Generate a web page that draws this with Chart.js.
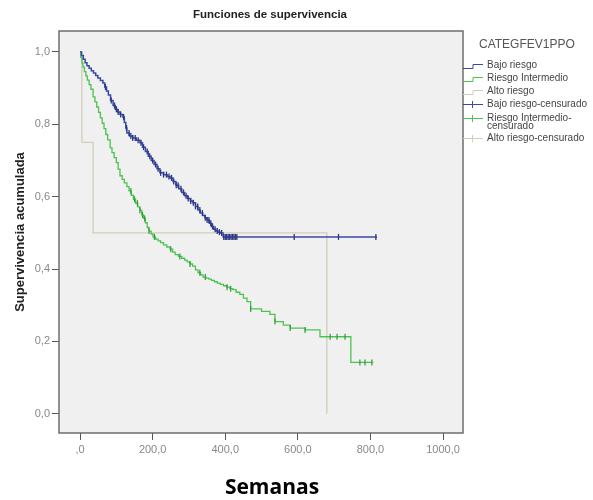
<!DOCTYPE html>
<html>
<head>
<meta charset="utf-8">
<script src="https://cdn.jsdelivr.net/npm/chart.js@4.4.1/dist/chart.umd.min.js"></script>
<style>
  body { margin: 0; background: #fff; }
  #wrap { position: relative; width: 593px; height: 500px; }
  #myChart { position: absolute; left: 0; top: 0; }
  .txt { position: absolute; white-space: nowrap; font-family: "Liberation Sans", Arial, sans-serif; }
  #titulo { left: 0; width: 540px; top: 8px; text-align: center; font-size: 11.5px; font-weight: bold; color: #222; }
  #semanas { left: 172px; width: 200px; top: 472px; text-align: center; font-family: "Open Sans", sans-serif; font-size: 21px; font-weight: bold; color: #000; }
  #leyTitulo { left: 479px; top: 37px; font-size: 12px; color: #555; }
  .fila { position: absolute; left: 463px; height: 12px; }
  .fila svg { position: absolute; left: 0; top: 0; }
  .fila span { position: absolute; left: 24px; top: 2px; font-size: 10px; line-height: 8px; color: #444; font-family: "Liberation Sans", Arial, sans-serif; white-space: nowrap; }
</style>
</head>
<body>
<div id="wrap">
  <canvas id="myChart" width="593" height="500"></canvas>
  <div class="txt" id="titulo">Funciones de supervivencia</div>
  <div class="txt" id="semanas">Semanas</div>
  <div class="txt" id="leyTitulo">CATEGFEV1PPO</div>
  <div id="leyenda"></div>
</div>
<script>
//Tiempos (semanas) y supervivencia acumulada de cada grupo
var tiempoBajo = [0, 4, 9, 14, 19, 25, 31, 37, 43, 49, 56, 63, 68, 73, 78, 84, 91, 97, 103, 110, 118, 122, 126, 129, 136, 145, 155, 165, 172, 180, 188, 196, 204, 212, 220, 230, 240, 248, 256, 264, 272, 280, 288, 296, 304, 311, 318, 325, 331, 338, 344, 350, 356, 362, 368, 374, 380, 386, 394, 818];
var survBajo = [1.0, 0.99, 0.98, 0.97, 0.962, 0.955, 0.948, 0.942, 0.935, 0.928, 0.921, 0.914, 0.903, 0.892, 0.881, 0.866, 0.852, 0.842, 0.834, 0.827, 0.82, 0.805, 0.79, 0.776, 0.768, 0.762, 0.756, 0.749, 0.737, 0.725, 0.712, 0.7, 0.689, 0.677, 0.666, 0.661, 0.656, 0.652, 0.642, 0.632, 0.622, 0.612, 0.603, 0.595, 0.588, 0.583, 0.573, 0.563, 0.555, 0.548, 0.542, 0.536, 0.527, 0.518, 0.51, 0.505, 0.502, 0.5, 0.489, 0.489];

var tiempoInter = [0, 2, 5, 8, 12, 16, 20, 25, 30, 36, 41, 46, 51, 56, 61, 66, 71, 76, 83, 88, 94, 100, 105, 110, 116, 122, 129, 135, 141, 147, 153, 159, 165, 170, 175, 180, 185, 190, 196, 201, 208, 215, 222, 230, 239, 248, 255, 262, 271, 280, 288, 295, 303, 310, 318, 325, 332, 339, 347, 355, 362, 370, 378, 386, 395, 405, 413, 421, 430, 440, 450, 460, 470, 500, 523, 537, 560, 579, 620, 661, 746, 808];
var survInter = [1.0, 0.985, 0.97, 0.958, 0.946, 0.934, 0.922, 0.91, 0.897, 0.876, 0.862, 0.848, 0.833, 0.818, 0.803, 0.788, 0.772, 0.757, 0.735, 0.722, 0.708, 0.694, 0.676, 0.658, 0.648, 0.638, 0.628, 0.616, 0.604, 0.593, 0.582, 0.572, 0.562, 0.55, 0.54, 0.528, 0.515, 0.505, 0.497, 0.489, 0.483, 0.478, 0.473, 0.467, 0.461, 0.455, 0.447, 0.44, 0.435, 0.43, 0.425, 0.42, 0.414, 0.408, 0.398, 0.39, 0.384, 0.378, 0.375, 0.372, 0.369, 0.365, 0.361, 0.358, 0.354, 0.35, 0.346, 0.343, 0.336, 0.33, 0.32, 0.31, 0.29, 0.283, 0.275, 0.255, 0.245, 0.237, 0.232, 0.213, 0.142, 0.142];

var tiempoAlto = [0, 5, 36, 680];
var survAlto = [1.0, 0.75, 0.5, 0.0];

//Casos censurados (semanas)
var censBajo = [70, 86, 95, 100, 105, 112, 120, 128, 135, 140, 145, 152, 160, 168, 175, 185, 192, 200, 208, 215, 222, 230, 238, 245, 252, 258, 265, 270, 278, 285, 292, 298, 305, 312, 318, 324, 330, 337, 345, 350, 355, 360, 365, 372, 378, 384, 390, 396, 400, 404, 408, 412, 416, 420, 424, 428, 432, 590, 712, 815];
var censInter = [140, 150, 158, 165, 172, 178, 190, 205, 250, 275, 303, 330, 345, 405, 415, 470, 537, 579, 620, 689, 708, 730, 771, 785, 804];

//Ejes
var xTicks = [0, 200, 400, 600, 800, 1000];
var yTicks = [0, 0.2, 0.4, 0.6, 0.8, 1.0];

var grupos = ['Bajo riesgo', 'Riesgo Intermedio', 'Alto riesgo', 'Bajo riesgo-censurado', 'Riesgo Intermedio-censurado', 'Alto riesgo-censurado'];

var azul = '#3a4aa2';
var verde = '#4cc251';
var gris = '#d2ccbc';

function toPoints(t, s) {
  var pts = [];
  for (i = 0; i < t.length; i++) {
    pts.push({x: t[i], y: s[i]});
  }
  return pts;
}

//survival value at time t (step function)
function survAt(t, s, time) {
  var v = s[0];
  for (i = 0; i < t.length; i++) {
    if (t[i] <= time) v = s[i];
  }
  return v;
}

function censPoints(cens, t, s) {
  var pts = [];
  for (var k = 0; k < cens.length; k++) {
    pts.push({x: cens[k], y: survAt(t, s, cens[k])});
  }
  return pts;
}

function fmt(v, eje) {
  if (v === 0 && eje === 'x') return ',0';
  return v.toFixed(1).replace('.', ',');
}

//Plot background + frame
var marco = {
  id: 'marco',
  beforeDatasetsDraw: function (chart) {
    var a = chart.chartArea;
    var ctx = chart.ctx;
    ctx.save();
    ctx.fillStyle = '#f0f0f0';
    ctx.fillRect(a.left, a.top, a.right - a.left, a.bottom - a.top);
    ctx.restore();
  },
  afterDraw: function (chart) {
    var a = chart.chartArea;
    var ctx = chart.ctx;
    ctx.save();
    ctx.strokeStyle = '#6e6e6e';
    ctx.lineWidth = 1.5;
    ctx.strokeRect(a.left, a.top, a.right - a.left, a.bottom - a.top);
    ctx.restore();
  }
};

var ctx = document.getElementById('myChart').getContext('2d');

var myChart = new Chart(ctx, {
  type: 'line',
  data: {
    datasets: [
      {
        label: grupos[3],
        data: censPoints(censBajo, tiempoBajo, survBajo),
        showLine: false,
        pointStyle: 'line',
        rotation: 90,
        pointRadius: 3,
        borderColor: '#2a3784',
        borderWidth: 1.3
      },
      {
        label: grupos[4],
        data: censPoints(censInter, tiempoInter, survInter),
        showLine: false,
        pointStyle: 'line',
        rotation: 90,
        pointRadius: 3,
        borderColor: '#2f9a3a',
        borderWidth: 1.2
      },
      {
        label: grupos[0],
        data: toPoints(tiempoBajo, survBajo),
        stepped: 'before',
        borderColor: azul,
        borderWidth: 1.5,
        pointRadius: 0
      },
      {
        label: grupos[1],
        data: toPoints(tiempoInter, survInter),
        stepped: 'before',
        borderColor: verde,
        borderWidth: 1.3,
        pointRadius: 0
      },
      {
        label: grupos[2],
        data: toPoints(tiempoAlto, survAlto),
        stepped: 'before',
        borderColor: gris,
        borderWidth: 1.3,
        pointRadius: 0
      }
    ]
  },
  options: {
    responsive: false,
    animation: false,
    layout: {
      padding: {left: 0, right: 130, top: 31, bottom: 37}
    },
    plugins: {
      legend: {display: false},
      title: {display: false},
      tooltip: {enabled: false}
    },
    scales: {
      x: {
        type: 'linear',
        min: -58,
        max: 1055,
        afterFit: function (scale) { scale.height = 30; },
        afterBuildTicks: function (scale) {
          scale.ticks = xTicks.map(function (v) { return {value: v}; });
        },
        border: {display: false},
        grid: {drawOnChartArea: false, drawTicks: true, tickLength: 7, color: '#555', lineWidth: 1},
        ticks: {
          padding: 3,
          color: '#888',
          font: {family: 'Liberation Sans', size: 11},
          callback: function (v) { return fmt(v, 'x'); }
        }
      },
      y: {
        type: 'linear',
        min: -0.053,
        max: 1.058,
        afterFit: function (scale) { scale.width = 59; },
        afterBuildTicks: function (scale) {
          scale.ticks = yTicks.map(function (v) { return {value: v}; });
        },
        border: {display: false},
        grid: {drawOnChartArea: false, drawTicks: true, tickLength: 7, color: '#555', lineWidth: 1},
        ticks: {
          padding: 2,
          color: '#888',
          font: {family: 'Liberation Sans', size: 11},
          callback: function (v) { return fmt(v, 'y'); }
        },
        title: {
          display: true,
          text: 'Supervivencia acumulada',
          color: '#222',
          font: {family: 'Liberation Sans', size: 13, weight: 'bold'},
          padding: {top: 13, bottom: 0}
        }
      }
    }
  },
  plugins: [marco]
});

//Legend (HTML)
var leyenda = document.getElementById('leyenda');
var filaY = [65, 78, 91, 104, 118, 138];
var filaColor = [azul, verde, gris, azul, verde, gris];

for (var k = 0; k < grupos.length; k++) {
  var fila = document.createElement('div');
  fila.className = 'fila';
  fila.style.top = (filaY[k] - 6) + 'px';
  var svg;
  if (k < 3) {
    svg = '<svg width="22" height="12"><path d="M0 9.5 H10 V5.5 H20" fill="none" stroke="' + filaColor[k] + '" stroke-width="1"/></svg>';
  } else {
    svg = '<svg width="22" height="12"><path d="M0 6.5 H20 M9.5 3 V10" fill="none" stroke="' + filaColor[k] + '" stroke-width="1"/></svg>';
  }
  var texto = grupos[k];
  if (k === 4) texto = 'Riesgo Intermedio-<br>censurado';
  fila.innerHTML = svg + '<span>' + texto + '</span>';
  leyenda.appendChild(fila);
}
</script>
</body>
</html>
